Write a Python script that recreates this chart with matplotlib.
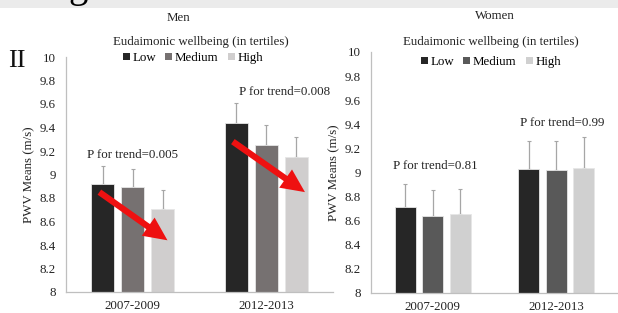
import matplotlib
matplotlib.use("Agg")
import matplotlib.pyplot as plt
from matplotlib.patches import Rectangle, Patch
import numpy as np

plt.rcParams['font.family'] = ['Liberation Serif', 'DejaVu Serif']

periods = ["2007-2009", "2012-2013"]
tertiles = ["Low", "Medium", "High"]

men_means = {"Low": [8.92, 9.44], "Medium": [8.89, 9.25], "High": [8.71, 9.15]}
men_err = {"Low": [0.15, 0.17], "Medium": [0.16, 0.17], "High": [0.16, 0.17]}
women_means = {"Low": [8.71, 9.03], "Medium": [8.64, 9.02], "High": [8.65, 9.04]}
women_err = {"Low": [0.19, 0.23], "Medium": [0.21, 0.24], "High": [0.21, 0.25]}

men_p = ["P for trend=0.005", "P for trend=0.008"]
women_p = ["P for trend=0.81", "P for trend=0.99"]
yticks = [8, 8.2, 8.4, 8.6, 8.8, 9, 9.2, 9.4, 9.6, 9.8, 10]
ytick_labels = ["8", "8.2", "8.4", "8.6", "8.8", "9", "9.2", "9.4", "9.6", "9.8", "10"]

men_colors = {"Low": "#262626", "Medium": "#767171", "High": "#d0cece"}
women_colors = {"Low": "#262626", "Medium": "#595959", "High": "#d0d0d0"}

FS = 9.3
W, H = 618, 313
fig = plt.figure(figsize=(W / 100, H / 100), dpi=100)
fig.patch.set_facecolor("white")

# top grey band with cropped heading glyph
fig.add_artist(Rectangle((0, 1 - 8 / H), 1, 8 / H, transform=fig.transFigure,
                         facecolor="#ebebeb", edgecolor="none", zorder=0))
fig.text(68 / W, 1 + 3 / H, "g", fontsize=28, va="baseline", ha="left", color="black")
fig.text(8 / W, 1 - 61 / H, "II", fontsize=19, va="center", ha="left", color="#111111")

ax1 = fig.add_axes([66 / W, (H - 292) / H, 267 / W, 235 / H])
ax2 = fig.add_axes([371 / W, (H - 292.7) / H, 247 / W, 240.7 / H])

x = np.arange(len(periods))
bw = 0.17
off = 0.224


def draw(ax, means, errs, colors, pvals, ppos, pad):
    for i, t in enumerate(tertiles):
        pos = x + (i - 1) * off
        ax.bar(pos, np.array(means[t]) - 8, bottom=8, width=bw, color=colors[t],
               edgecolor="#e6e6e6", linewidth=0.6, zorder=2)
        ax.errorbar(pos, means[t], yerr=[np.zeros(2), errs[t]], fmt="none",
                    ecolor="#a6a6a6", elinewidth=0.9, capsize=1.2, capthick=0.8, zorder=1)
    ax.set_ylim(8, 10)
    ax.set_xlim(-0.5, 1.5)
    ax.set_yticks(yticks)
    ax.set_yticklabels(ytick_labels)
    ax.set_xticks(x)
    ax.set_xticklabels(periods)
    ax.tick_params(axis="y", length=0, pad=pad, labelsize=FS, colors="#222222")
    ax.tick_params(axis="x", length=0, pad=6, labelsize=FS, colors="#222222")
    for s in ["top", "right"]:
        ax.spines[s].set_visible(False)
    for s in ["left", "bottom"]:
        ax.spines[s].set_color("#bfbfbf")
        ax.spines[s].set_linewidth(0.9)
    ax.set_ylabel("PWV Means (m/s)", fontsize=FS, color="#222222", labelpad=3)
    for (px, py), txt in zip(ppos, pvals):
        ax.text(px, py, txt, fontsize=FS, ha="center", va="center", color="#222222")
    ax.patch.set_alpha(0)


draw(ax1, men_means, men_err, men_colors, men_p, [(0.0, 9.17), (1.14, 9.70)], 7.2)
draw(ax2, women_means, women_err, women_colors, women_p, [(0.02, 9.05), (1.05, 9.41)], 7.5)

# red trend arrows (men)
arrow_kw = dict(arrowstyle="simple,head_length=1.7,head_width=1.6,tail_width=0.45",
                color="#ee1111", lw=0, shrinkA=0, shrinkB=0)
ax1.annotate("", xy=(0.26, 8.44), xytext=(-0.25, 8.85), arrowprops=arrow_kw, zorder=5)
ax1.annotate("", xy=(1.29, 8.85), xytext=(0.75, 9.28), arrowprops=arrow_kw, zorder=5)

# titles and legends
for cx, ty, sub_x, sub_y, lx, leg_y, label, colors in [
        (178, 18, 201, 42, 193, 58, "Men", men_colors),
        (495, 16, 491, 42, 491, 62, "Women", women_colors)]:
    fig.text(cx / W, 1 - ty / H, label, fontsize=FS, ha="center", va="center", color="#222222")
    fig.text(sub_x / W, 1 - sub_y / H, "Eudaimonic wellbeing (in tertiles)", fontsize=FS,
             ha="center", va="center", color="#222222")
    handles = [Patch(facecolor=colors[t], edgecolor="none") for t in tertiles]
    fig.legend(handles, tertiles, loc="center", bbox_to_anchor=(lx / W, 1 - leg_y / H),
               ncol=3, frameon=False, fontsize=FS, handlelength=0.55, handleheight=0.55,
               handletextpad=0.2, columnspacing=0.7, borderpad=0)

fig.savefig("out.png", dpi=100)
